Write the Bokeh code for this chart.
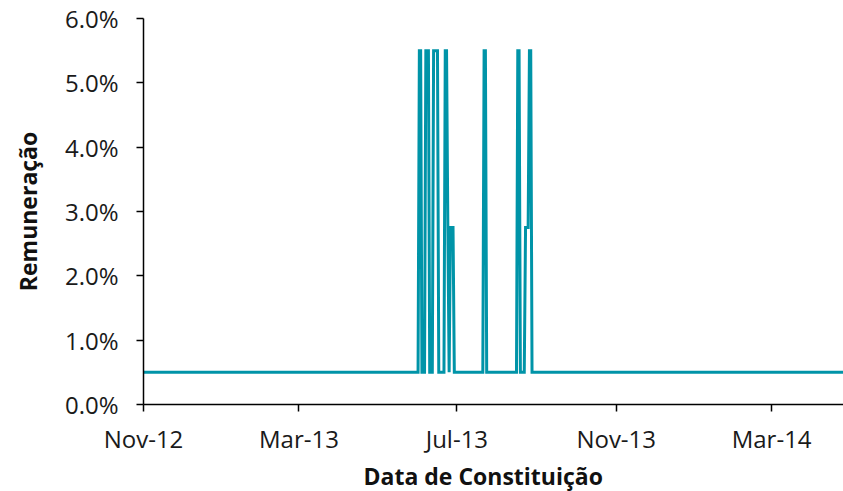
from datetime import datetime
from bokeh.plotting import figure
from bokeh.models import (Range1d, FixedTicker, NumeralTickFormatter,
                          DatetimeTickFormatter, ColumnDataSource, Title)
from bokeh.embed import file_html
from bokeh.resources import INLINE

# Change points of the series (date of constitution, remuneration)
dates = [
    "2012-11-01", "2013-06-01", "2013-06-02", "2013-06-03", "2013-06-04",
    "2013-06-06", "2013-06-07", "2013-06-09", "2013-06-10", "2013-06-12",
    "2013-06-13", "2013-06-16", "2013-06-17", "2013-06-21", "2013-06-22",
    "2013-06-23", "2013-06-24", "2013-06-25", "2013-06-26", "2013-06-28",
    "2013-06-29", "2013-07-21", "2013-07-22", "2013-07-23", "2013-07-24",
    "2013-08-16", "2013-08-17", "2013-08-18", "2013-08-19", "2013-08-22",
    "2013-08-23", "2013-08-25", "2013-08-26", "2013-08-27", "2013-08-28",
    "2014-04-30",
]
rates = [
    0.005, 0.005, 0.055, 0.055, 0.005,
    0.005, 0.055, 0.055, 0.005, 0.005,
    0.055, 0.055, 0.005, 0.005, 0.055,
    0.055, 0.0275, 0.005, 0.0275, 0.0275,
    0.005, 0.005, 0.055, 0.055, 0.005,
    0.005, 0.055, 0.055, 0.005, 0.005,
    0.0275, 0.0275, 0.055, 0.055, 0.005,
    0.005,
]
tick_dates = ["2012-11-01", "2013-03-01", "2013-07-01", "2013-11-01", "2014-03-01"]
y_ticks = [0.0, 0.01, 0.02, 0.03, 0.04, 0.05, 0.06]
x_title = "Data de Constituição"
y_title = "Remuneração"

x_vals = [datetime.strptime(d, "%Y-%m-%d") for d in dates]
src = ColumnDataSource(dict(x=x_vals, y=rates))

FONT = "Open Sans"

p = figure(width=843, height=491, output_backend="svg", toolbar_location=None,
           x_axis_type="datetime",
           x_range=Range1d(datetime(2012, 11, 1), datetime(2014, 4, 25, 12)),
           y_range=Range1d(0, 0.06),
           min_border_left=143, min_border_right=0, min_border_top=18,
           min_border_bottom=85)

p.line("x", "y", source=src, line_color="#0094A8", line_width=3,
       line_join="miter")

p.outline_line_color = None
p.xgrid.grid_line_color = None
p.ygrid.grid_line_color = None

epoch = datetime(1970, 1, 1)
tick_ms = [(datetime.strptime(d, "%Y-%m-%d") - epoch).total_seconds() * 1000
           for d in tick_dates]
xa = p.xaxis[0]
xa.ticker = FixedTicker(ticks=tick_ms)
fmt = "%b-%y"
xa.formatter = DatetimeTickFormatter(milliseconds=fmt, seconds=fmt, minsec=fmt,
                                     minutes=fmt, hourmin=fmt, hours=fmt,
                                     days=fmt, months=fmt, years=fmt)
ya = p.yaxis[0]
ya.ticker = FixedTicker(ticks=y_ticks)
ya.formatter = NumeralTickFormatter(format="0.0%")

for ax in (xa, ya):
    ax.axis_line_color = "black"
    ax.axis_line_width = 1.5
    ax.major_tick_line_color = "black"
    ax.major_tick_line_width = 1.5
    ax.major_tick_in = 0
    ax.major_tick_out = 7
    ax.minor_tick_line_color = None
    ax.major_label_text_font = FONT
    ax.major_label_text_font_size = "24px"
    ax.major_label_text_color = "#1a1a1a"
    ax.axis_label_text_font = FONT
    ax.axis_label_text_font_style = "bold"
    ax.axis_label_text_font_size = "23px"
    ax.axis_label_text_color = "#111111"

ya.axis_label = y_title
xa.major_label_standoff = 10
ya.major_label_standoff = 18
ya.axis_label_standoff = 18

# x-axis title as a title panel below the axis
p.add_layout(Title(text=x_title, align="left", offset=220, standoff=0,
                   text_font=FONT, text_font_style="bold",
                   text_font_size="23px", text_color="#111111"), "below")

open("out.html", "w").write(file_html(p, INLINE))
